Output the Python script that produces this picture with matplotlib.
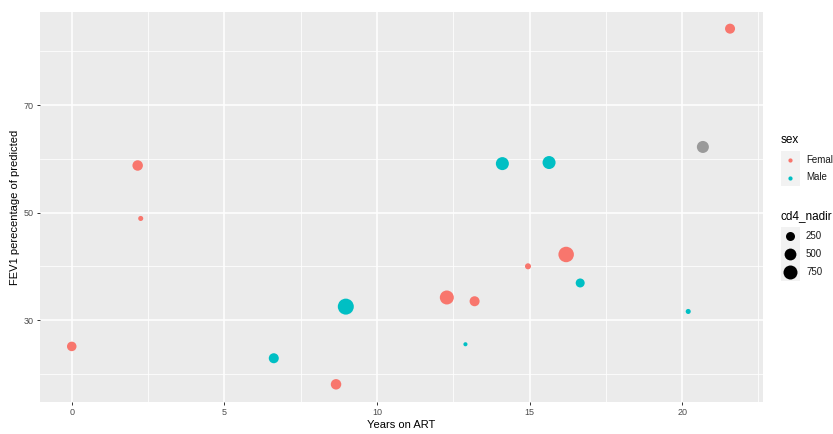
import numpy as np
import matplotlib
matplotlib.use("Agg")
import matplotlib.pyplot as plt
from matplotlib.patches import Rectangle

plt.rcParams['font.family'] = ['Liberation Sans', 'DejaVu Sans']

# ---- data ----
years_on_art = [0.0, 2.16, 2.26, 6.62, 8.66, 8.98, 12.29, 13.2, 12.9, 14.11,
                15.64, 14.95, 16.2, 16.66, 20.2, 20.68, 21.57]
fev1_pct = [25.1, 58.75, 48.9, 22.9, 18.05, 32.5, 34.2, 33.5, 25.5, 59.1,
            59.3, 40.0, 42.2, 36.9, 31.6, 62.2, 84.2]
sex = ['Female', 'Female', 'Female', 'Male', 'Female', 'Male', 'Female', 'Female',
       'Male', 'Male', 'Male', 'Female', 'Female', 'Male', 'Male', None, 'Female']
cd4_nadir = [290, 370, 45, 330, 370, 1025, 750, 330, 20, 630, 630, 80, 950,
             250, 45, 520, 330]

sex_levels = ['Female', 'Male']
size_breaks = [250, 500, 750]
x_ticks = [0, 5, 10, 15, 20]
y_ticks = [30, 50, 70]

# ---- styles ----
sex_colors = {'Female': '#F8766D', 'Male': '#00BFC4', None: '#9A9A9A'}
W, H, DPI = 833, 434, 100
PX = 72.0 / DPI  # points per pixel


def size_area(v):
    d_px = 2.17 + 0.432 * np.sqrt(np.asarray(v, dtype=float))
    return (d_px * PX) ** 2


fig = plt.figure(figsize=(W / DPI, H / DPI), dpi=DPI)
fig.patch.set_facecolor('white')

ax = fig.add_axes([40 / W, (H - 402) / H, 723 / W, 390 / H])
ax.set_facecolor('#EBEBEB')
ax.set_xlim(-1.04, 22.65)
ax.set_ylim(14.76, 87.3)
for s in ax.spines.values():
    s.set_visible(False)

ax.set_xticks(x_ticks)
ax.set_yticks(y_ticks)
ax.set_xticks([2.5, 7.5, 12.5, 17.5, 22.5], minor=True)
ax.set_yticks([20, 40, 60, 80], minor=True)
ax.grid(which='major', color='white', linewidth=1.1)
ax.grid(which='minor', color='white', linewidth=0.55)
ax.set_axisbelow(True)
ax.tick_params(which='major', length=2.5, width=0.7, color='#333333',
               labelsize=6.5, labelcolor='#4D4D4D', pad=2)
ax.tick_params(which='minor', length=0)

ax.set_xlabel('Years on ART', fontsize=8, color='black', labelpad=2)
ax.set_ylabel('FEV1 perecentage of predicted', fontsize=8, color='black', labelpad=3)

colors = [sex_colors[s] for s in sex]
ax.scatter(years_on_art, fev1_pct, s=size_area(cd4_nadir), c=colors,
           linewidths=0, zorder=3)

# ---- legends (drawn in a pixel-coordinate overlay) ----
lg = fig.add_axes([0, 0, 1, 1])
lg.set_xlim(0, W)
lg.set_ylim(H, 0)
lg.axis('off')
lg.patch.set_alpha(0)

key_x0, key_w, key_h = 781, 19, 17.5
lg.text(key_x0, 140, 'sex', fontsize=8.5, va='center', ha='left')
for i, lev in enumerate(sex_levels):
    yc = 160 + i * key_h
    lg.add_patch(Rectangle((key_x0, yc - key_h / 2), key_w, key_h,
                           facecolor='#F2F2F2', edgecolor='none'))
    lg.scatter([key_x0 + key_w / 2], [yc], s=(4.2 * PX) ** 2,
               c=sex_colors[lev], linewidths=0)
    lg.text(806, yc, lev, fontsize=7, va='center', ha='left', color='#1A1A1A')

lg.text(key_x0, 216, 'cd4_nadir', fontsize=8.5, va='center', ha='left')
for i, b in enumerate(size_breaks):
    yc = 236 + i * 18
    lg.add_patch(Rectangle((key_x0, yc - 9), key_w, 18,
                           facecolor='#F2F2F2', edgecolor='none'))
    lg.scatter([key_x0 + key_w / 2], [yc], s=size_area([b]), c='black',
               linewidths=0)
    lg.text(806, yc, str(b), fontsize=7, va='center', ha='left', color='#1A1A1A')

fig.savefig('out.png', dpi=DPI)
